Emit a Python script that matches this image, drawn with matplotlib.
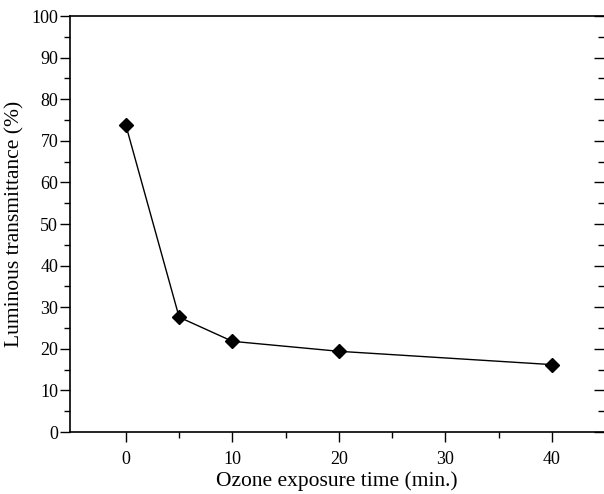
import matplotlib
matplotlib.use("Agg")
import matplotlib.pyplot as plt
from matplotlib.ticker import FixedLocator, MultipleLocator
from matplotlib import lines as mlines

# Data
exposure_time = [0, 5, 10, 20, 40]
transmittance = [73.7, 27.6, 21.8, 19.4, 16.2]
x_ticks = [0, 10, 20, 30, 40]
x_minor_ticks = [5, 15, 25, 35]
y_ticks = [0, 10, 20, 30, 40, 50, 60, 70, 80, 90, 100]
x_label = "Ozone exposure time (min.)"
y_label = "Luminous transmittance (%)"

plt.rcParams['font.family'] = ['Liberation Serif', 'DejaVu Serif']

fig = plt.figure(figsize=(6.04, 4.94), dpi=100)
ax = fig.add_axes([70/604, 62/494, 534/604, 416/494])

ax.plot(exposure_time, transmittance, color='black', linewidth=1.0,
        marker='D', markersize=7, markerfacecolor='black', markeredgecolor='black')

ax.set_xlim(-5.25, 44.9)
ax.set_ylim(0, 100)
ax.set_xticks(x_ticks)
ax.set_yticks(y_ticks)
ax.xaxis.set_minor_locator(FixedLocator(x_minor_ticks))
ax.yaxis.set_minor_locator(MultipleLocator(5))

ax.tick_params(axis='both', which='major', direction='out', length=7, width=1.0,
               labelsize=13, colors='black')
ax.tick_params(axis='both', which='minor', direction='out', length=4, width=1.0)
ax.tick_params(axis='y', which='both', right=True)
ax.tick_params(axis='x', which='major', pad=7)
ax.tick_params(axis='y', which='major', pad=1.5)

fig.canvas.draw()
# right-side ticks point inward (leftwards)
for t in ax.yaxis.get_major_ticks():
    t.tick2line.set_marker(mlines.TICKLEFT)
    t.tick2line.set_markersize(7)
    t.tick2line.set_markeredgewidth(1.0)
for t in ax.yaxis.get_minor_ticks():
    t.tick2line.set_marker(mlines.TICKLEFT)
    t.tick2line.set_markersize(4)
    t.tick2line.set_markeredgewidth(1.0)

ax.spines['right'].set_visible(False)
for s in ['left', 'bottom', 'top']:
    ax.spines[s].set_linewidth(1.2)

ax.set_xlabel(x_label, fontsize=15.5, labelpad=2)
ax.set_ylabel(y_label, fontsize=15.5, labelpad=5)

fig.savefig("out.png", dpi=100)
